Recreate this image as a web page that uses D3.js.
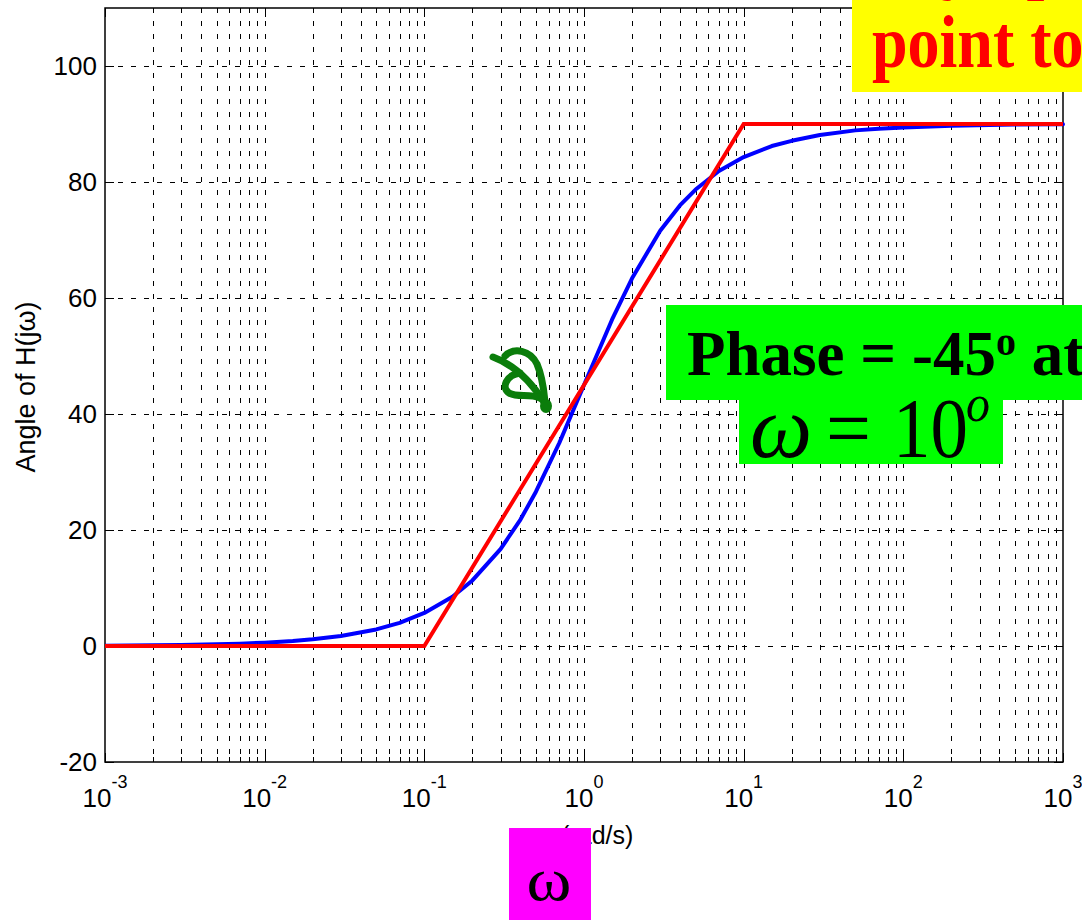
<!DOCTYPE html>
<html>
<head>
<meta charset="utf-8">
<script src="https://cdn.jsdelivr.net/npm/d3@7"></script>
<style>
  body { margin: 0; background: #ffffff; }
  svg { display: block; }
</style>
</head>
<body>
<svg id="chart" width="1082" height="920"></svg>
<script>
// Frequency samples (rad/s) and the exact phase of H(jω) in degrees
const freq = [0.001, 0.002, 0.003, 0.005, 0.007, 0.01, 0.015, 0.02, 0.03, 0.05, 0.07,
              0.1, 0.15, 0.2, 0.3, 0.4, 0.5, 0.7, 1, 1.5, 2, 3, 4, 5, 7,
              10, 15, 20, 30, 50, 70, 100, 200, 500, 1000];
const phaseExact = [0.06, 0.11, 0.17, 0.29, 0.4, 0.57, 0.86, 1.15, 1.72, 2.86, 4.0,
                    5.7, 8.5, 11.3, 16.7, 21.8, 26.6, 35.0, 45.0, 56.3, 63.4, 71.6, 76.0, 78.7, 81.9,
                    84.3, 86.2, 87.1, 88.1, 88.9, 89.2, 89.4, 89.7, 89.9, 89.94];

// Straight-line (asymptotic) approximation
const asymFreq = [0.001, 0.1, 10, 1000];
const asymPhase = [0, 0, 90, 90];

// Axis ticks
const yTicks = [-20, 0, 20, 40, 60, 80, 100];
const xDecades = [-3, -2, -1, 0, 1, 2, 3];

const svg = d3.select("#chart");
const pL = 105, pR = 1063, pT = 8, pB = 762;

const x = d3.scaleLog().domain([1e-3, 1e3]).range([pL, pR]);
const y = d3.scaleLinear().domain([-20, 110]).range([pB, pT]);

// minor + major log grid positions
const gridX = [];
for (let d = -3; d < 3; d++) {
  for (let m = 1; m <= 9; m++) gridX.push(m * Math.pow(10, d));
}
gridX.push(1000);

const grid = svg.append("g").attr("stroke", "#000").attr("stroke-width", 1)
  .attr("stroke-dasharray", "5,8").attr("fill", "none");
grid.selectAll("line.vx").data(gridX.filter(v => v > 1e-3 && v < 1e3)).join("line")
  .attr("x1", d => Math.round(x(d)) + 0.5).attr("x2", d => Math.round(x(d)) + 0.5)
  .attr("y1", pT).attr("y2", pB);
grid.selectAll("line.hy").data(yTicks.filter(v => v > -20)).join("line")
  .attr("x1", pL).attr("x2", pR)
  .attr("y1", d => Math.round(y(d)) + 0.5).attr("y2", d => Math.round(y(d)) + 0.5);

// tick marks on all four sides (drawn inward)
const ticks = svg.append("g").attr("stroke", "#000").attr("stroke-width", 1);
gridX.forEach(v => {
  const major = Math.abs(Math.log10(v) - Math.round(Math.log10(v))) < 1e-9;
  const len = major ? 9 : 5;
  const px = Math.round(x(v)) + 0.5;
  ticks.append("line").attr("x1", px).attr("x2", px).attr("y1", pB).attr("y2", pB - len);
  ticks.append("line").attr("x1", px).attr("x2", px).attr("y1", pT).attr("y2", pT + len);
});
yTicks.forEach(v => {
  const py = Math.round(y(v)) + 0.5;
  ticks.append("line").attr("x1", pL).attr("x2", pL + 9).attr("y1", py).attr("y2", py);
  ticks.append("line").attr("x1", pR).attr("x2", pR - 9).attr("y1", py).attr("y2", py);
});

// axes box
svg.append("rect").attr("x", pL).attr("y", pT)
  .attr("width", pR - pL).attr("height", pB - pT)
  .attr("fill", "none").attr("stroke", "#000").attr("stroke-width", 1.5);

// y tick labels
svg.append("g").selectAll("text").data(yTicks).join("text")
  .attr("x", 97).attr("y", d => y(d) + 9)
  .attr("text-anchor", "end")
  .attr("font-family", "'Liberation Sans', Arial, sans-serif")
  .attr("font-size", 26)
  .text(d => d);

// x tick labels 10^n
const xl = svg.append("g").attr("font-family", "'Liberation Sans', Arial, sans-serif");
xDecades.forEach(p => {
  const t = xl.append("text").attr("x", x(Math.pow(10, p))).attr("y", 807)
    .attr("text-anchor", "middle").attr("font-size", 26);
  t.append("tspan").text("10");
  t.append("tspan").attr("dy", -19).attr("font-size", 18).text(p);
});

// axis titles
svg.append("text")
  .attr("transform", `translate(35,${(pT + pB) / 2 + 2}) rotate(-90)`)
  .attr("text-anchor", "middle")
  .attr("font-family", "'Liberation Sans', Arial, sans-serif")
  .attr("font-size", 27)
  .text("Angle of H(jω)");
svg.append("text")
  .attr("x", 584).attr("y", 844)
  .attr("text-anchor", "middle")
  .attr("font-family", "'Liberation Sans', Arial, sans-serif")
  .attr("font-size", 25)
  .text("ω (rad/s)");

// curves
svg.append("clipPath").attr("id", "plotClip").append("rect")
  .attr("x", pL).attr("y", pT - 2).attr("width", pR - pL + 4).attr("height", pB - pT + 4);
const plot = svg.append("g").attr("clip-path", "url(#plotClip)");

const line = d3.line().x(d => x(d[0])).y(d => y(d[1]));
plot.append("path")
  .datum(d3.zip(freq, phaseExact))
  .attr("d", line)
  .attr("fill", "none").attr("stroke", "#0000ff").attr("stroke-width", 4)
  .attr("stroke-linejoin", "round").attr("stroke-linecap", "round");
plot.append("path")
  .datum(d3.zip(asymFreq, asymPhase))
  .attr("d", line)
  .attr("fill", "none").attr("stroke", "#ff0000").attr("stroke-width", 4)
  .attr("stroke-linejoin", "miter");

// ---- annotations ----
const serif = "'Liberation Serif', 'Times New Roman', serif";

// yellow note
svg.append("rect").attr("x", 852).attr("y", 0).attr("width", 240).attr("height", 92).attr("fill", "#ffff00");
svg.append("text").attr("transform", "translate(870,-14) scale(1,1.12)")
  .attr("font-family", serif).attr("font-weight", "bold").attr("font-size", 64)
  .attr("fill", "#ff0000").text("Asymptotes");
svg.append("text").attr("transform", "translate(872,67) scale(1,1.15)")
  .attr("font-family", serif).attr("font-weight", "bold").attr("font-size", 64)
  .attr("fill", "#ff0000").text("point to");

// green note
svg.append("rect").attr("x", 666).attr("y", 305).attr("width", 430).attr("height", 95).attr("fill", "#00ff00");
svg.append("rect").attr("x", 739).attr("y", 398).attr("width", 264).attr("height", 66).attr("fill", "#00ff00");
const ph = svg.append("text").attr("x", 687).attr("y", 375)
  .attr("font-family", serif).attr("font-weight", "bold").attr("font-size", 63).attr("fill", "#000");
ph.append("tspan").text("Phase = -45");
ph.append("tspan").attr("dy", -20).attr("font-size", 40).text("o");
ph.append("tspan").attr("dy", 20).text(" at");

svg.append("text").attr("transform", "translate(750,457) scale(1.1,1.12)")
  .attr("font-family", serif).attr("font-style", "italic").attr("font-size", 80).text("ω");
svg.append("text").attr("transform", "translate(826,457) scale(1.05,1.12)")
  .attr("font-family", serif).attr("font-size", 76).text("=");
svg.append("text").attr("transform", "translate(893,457) scale(1,1.12)")
  .attr("font-family", serif).attr("font-size", 75).text("10");
svg.append("text").attr("transform", "translate(966,421) scale(1,1.12)")
  .attr("font-family", serif).attr("font-style", "italic").attr("font-size", 48).text("o");

// green pointer glyph
const glyph = svg.append("g").attr("fill", "none").attr("stroke", "#0b7d0b")
  .attr("stroke-width", 7).attr("stroke-linecap", "round").attr("stroke-linejoin", "round");
glyph.append("path").attr("d", "M493,357 C512,364 530,380 544,402");
glyph.append("path").attr("d", "M505,356 C514,347 530,350 537,364 C543,378 544,392 545,402");
glyph.append("path").attr("d", "M520,373 C506,375 501,388 509,393 C517,398 530,393 540,398");
svg.append("ellipse").attr("cx", 546).attr("cy", 406).attr("rx", 6).attr("ry", 7).attr("fill", "#0b7d0b");

// magenta label
svg.append("rect").attr("x", 509).attr("y", 828).attr("width", 82).attr("height", 92).attr("fill", "#ff00ff");
svg.append("text").attr("transform", "translate(549,900) scale(1.1,1)").attr("text-anchor", "middle")
  .attr("font-family", serif).attr("font-size", 62).text("ω");
</script>
</body>
</html>
